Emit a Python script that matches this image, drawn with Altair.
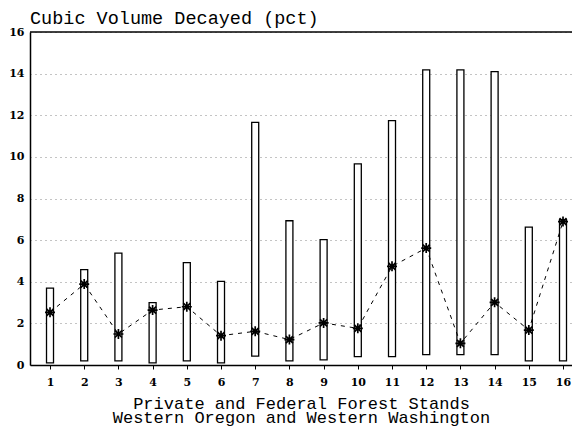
import altair as alt
import pandas as pd

stands = list(range(1, 17))
low = [0.1, 0.2, 0.2, 0.1, 0.2, 0.1, 0.43, 0.2, 0.25, 0.4, 0.4, 0.5, 0.5, 0.5, 0.2, 0.2]
high = [3.69, 4.58, 5.38, 3.0, 4.92, 4.02, 11.66, 6.93, 6.02, 9.66, 11.74, 14.18, 14.18, 14.1, 6.62, 6.98]
mean = [2.53, 3.89, 1.49, 2.64, 2.8, 1.41, 1.62, 1.22, 2.02, 1.76, 4.74, 5.62, 1.04, 3.01, 1.68, 6.89]
y_ticks = [0, 2, 4, 6, 8, 10, 12, 14, 16]

df = pd.DataFrame({"stand": stands, "low": low, "high": high, "mean": mean})

TXT = "Liberation Mono"
LBL = "DejaVu Serif"

xscale = alt.Scale(type="point", padding=0.424, align=0.69)
yscale = alt.Scale(domain=[0, 16], nice=False, padding=0)

xaxis = alt.Axis(
    title=["Private and Federal Forest Stands", "Western Oregon and Western Washington"],
    titleFont=TXT, titleFontSize=17, titleFontWeight="normal", titleColor="black",
    titlePadding=8, titleLineHeight=14.5,
    labelFont=LBL, labelFontWeight="bold", labelFontSize=11, labelColor="black", labelAngle=0,
    labelPadding=7, tickColor="black", tickSize=4, domainColor="black", domainWidth=1.5,
    grid=False, labelOverlap=False,
)
yaxis = alt.Axis(
    values=y_ticks, title=None,
    labelFont=LBL, labelFontWeight="bold", labelFontSize=11, labelColor="black",
    labelPadding=6, ticks=False, domainColor="black", domainWidth=1.5,
    labelOverlap=False, labelFlush=False,
    grid=True, gridColor="#888888", gridDash=[1, 4], gridWidth=1,
)

base = alt.Chart(df)

bars = base.mark_bar(size=7, fill="white", stroke="black", strokeWidth=1.3).encode(
    x=alt.X("stand:O", scale=xscale, axis=xaxis),
    y=alt.Y("low:Q", scale=yscale, axis=yaxis),
    y2="high:Q",
)

line = base.mark_line(color="black", strokeDash=[4, 5], strokeWidth=1).encode(
    x=alt.X("stand:O", scale=xscale),
    y=alt.Y("mean:Q", scale=yscale),
)

star = "M-1,0L1,0M0,-1L0,1M-0.7,-0.7L0.7,0.7M-0.7,0.7L0.7,-0.7"
points = base.mark_point(shape=star, filled=False, color="black", strokeWidth=1.7, size=100, opacity=1).encode(
    x=alt.X("stand:O", scale=xscale),
    y=alt.Y("mean:Q", scale=yscale),
)

top = alt.Chart(pd.DataFrame({"v": [16]})).mark_rule(color="black", strokeWidth=1.5).encode(
    y=alt.Y("v:Q", scale=yscale)
)

chart = alt.layer(bars, line, points, top).properties(
    width=542, height=333,
    title=alt.TitleParams(
        "Cubic Volume Decayed (pct)", anchor="start", font=TXT,
        fontSize=18.5, fontWeight="normal", color="black", offset=-1, frame="group",
    ),
    autosize=alt.AutoSizeParams(type="none"),
    padding={"left": 22, "top": 24, "right": 0, "bottom": 64},
    background="white",
).configure_view(stroke=None)

chart.save("out.html", embed_options={"renderer": "svg", "actions": False})
